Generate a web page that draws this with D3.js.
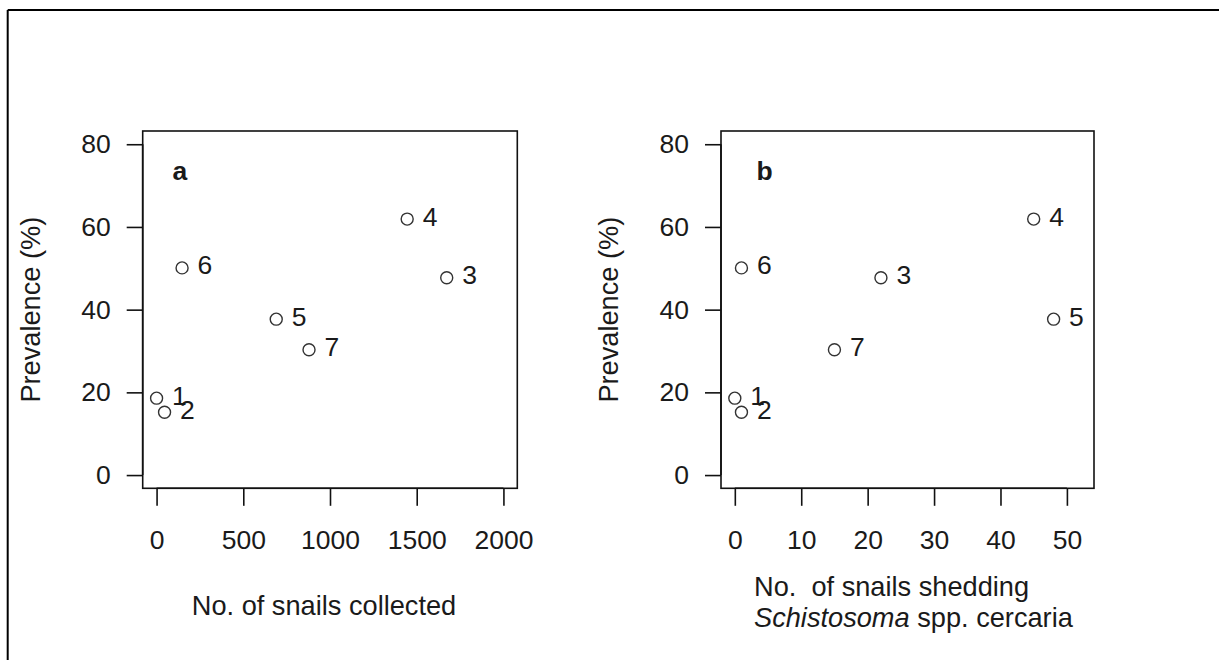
<!DOCTYPE html>
<html>
<head>
<meta charset="utf-8">
<script src="https://cdn.jsdelivr.net/npm/d3@7/dist/d3.min.js"></script>
<style>
  html, body { margin: 0; padding: 0; background: #fff; }
  svg { display: block; }
  text { font-family: "Liberation Sans", Arial, Helvetica, sans-serif; fill: #1a1a1a; }
</style>
</head>
<body>
<svg id="chart" width="1219" height="660"></svg>
<script>
// ---- data ----
const siteIds = ["1", "2", "3", "4", "5", "6", "7"];
const prevalence = [18.6, 15.2, 47.7, 61.9, 37.7, 50.1, 30.3];
const snailsCollected = [0, 46, 1673, 1445, 690, 147, 879];
const snailsShedding = [0, 1, 22, 45, 48, 1, 15];
const yTicks = [0, 20, 40, 60, 80];
const xTicksA = [0, 500, 1000, 1500, 2000];
const xTicksB = [0, 10, 20, 30, 40, 50];

const svg = d3.select("#chart");

// outer frame (top and left edges visible)
svg.append("line").attr("x1", 7.7).attr("x2", 1219).attr("y1", 10).attr("y2", 10)
  .attr("stroke", "#000").attr("stroke-width", 2);
svg.append("line").attr("x1", 7.7).attr("x2", 7.7).attr("y1", 10).attr("y2", 660)
  .attr("stroke", "#000").attr("stroke-width", 2);

const FS = 26.5;
const TFS = 27.2;

function panel(opt) {
  const top = 131, bottom = 488.3;
  const x = d3.scaleLinear().domain(opt.xDomain).range([opt.left, opt.right]);
  const y = d3.scaleLinear().domain([-3.2, 83.2]).range([bottom, top]);
  const g = svg.append("g");

  // box
  g.append("rect").attr("x", opt.left).attr("y", top)
    .attr("width", opt.right - opt.left).attr("height", bottom - top)
    .attr("fill", "none").attr("stroke", "#111").attr("stroke-width", 1.6);

  // y axis
  const yAxis = d3.axisLeft(y).tickValues(yTicks).tickSize(16).tickPadding(16);
  const ya = g.append("g").attr("transform", `translate(${opt.left},0)`).call(yAxis);
  ya.select(".domain").attr("stroke", "#111").attr("stroke-width", 1.6)
    .attr("d", `M0,${y(0)}V${y(80)}`);
  ya.selectAll(".tick line").attr("stroke", "#111").attr("stroke-width", 1.6);
  ya.selectAll(".tick text").attr("font-size", FS).attr("font-family", null).attr("fill", "#1a1a1a");

  // x axis
  const xAxis = d3.axisBottom(x).tickValues(opt.xTicks).tickSize(17.5).tickPadding(0)
    .tickFormat(d3.format("d"));
  const xa = g.append("g").attr("transform", `translate(0,${bottom})`).call(xAxis);
  xa.select(".domain").attr("stroke", "#111").attr("stroke-width", 1.6)
    .attr("d", `M${x(opt.xTicks[0])},0H${x(opt.xTicks[opt.xTicks.length - 1])}`);
  xa.selectAll(".tick line").attr("stroke", "#111").attr("stroke-width", 1.6);
  xa.selectAll(".tick text").attr("font-size", FS).attr("font-family", null).attr("fill", "#1a1a1a")
    .attr("dy", null).attr("y", 61).attr("dominant-baseline", "auto");

  // y title
  g.append("text")
    .attr("transform", `translate(${opt.left - 103},${(top + bottom) / 2}) rotate(-90)`)
    .attr("text-anchor", "middle").attr("font-size", TFS).text("Prevalence (%)");

  // panel letter
  g.append("text").attr("x", x(opt.letterX)).attr("y", 180)
    .attr("text-anchor", "middle").attr("font-size", FS).attr("font-weight", "bold")
    .text(opt.letter);

  // points
  const data = siteIds.map((id, i) => ({ id, xv: opt.xValues[i], yv: prevalence[i] }));
  g.selectAll("circle.pt").data(data).enter().append("circle")
    .attr("class", "pt")
    .attr("cx", d => x(d.xv)).attr("cy", d => y(d.yv)).attr("r", 6)
    .attr("fill", "none").attr("stroke", "#333").attr("stroke-width", 1.4);
  g.selectAll("text.lbl").data(data).enter().append("text")
    .attr("class", "lbl")
    .attr("x", d => x(d.xv) + 15.5).attr("y", d => y(d.yv) + 6.5)
    .attr("font-size", FS).text(d => d.id);

  return g;
}

const gA = panel({
  left: 142.7, right: 517.3, xDomain: [-80, 2080], xTicks: xTicksA,
  xValues: snailsCollected, letter: "a", letterX: 135
});
gA.append("text").attr("x", 324).attr("y", 615).attr("text-anchor", "middle")
  .attr("font-size", TFS).text("No. of snails collected");

const gB = panel({
  left: 721, right: 1094, xDomain: [-2.08, 54.08], xTicks: xTicksB,
  xValues: snailsShedding, letter: "b", letterX: 4.5
});
gB.append("text").attr("x", 754).attr("y", 596).attr("font-size", TFS)
  .attr("xml:space", "preserve").style("white-space", "pre")
  .text("No.  of snails shedding");
const t2 = gB.append("text").attr("x", 754).attr("y", 627).attr("font-size", TFS);
t2.append("tspan").attr("font-style", "italic").text("Schistosoma");
t2.append("tspan").text(" spp. cercaria");
</script>
</body>
</html>
